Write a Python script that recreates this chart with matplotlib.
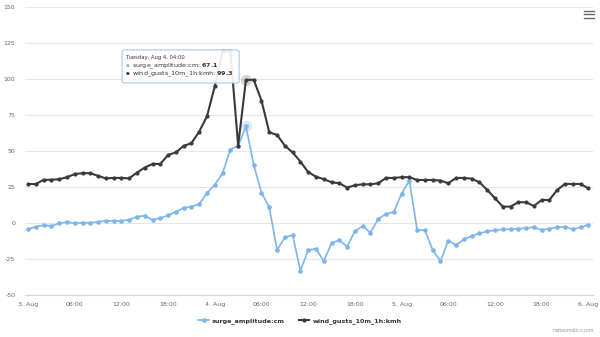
import matplotlib
matplotlib.use("Agg")
import matplotlib.pyplot as plt
from matplotlib.lines import Line2D
from matplotlib.patches import FancyBboxPatch

# Hourly series, 3 Aug 00:00 to 6 Aug 00:00
hours = list(range(73))

surge_amplitude_cm = [
    -4.4, -2.6, -1.6, -2.1, -0.2, 0.7, -0.2, 0.2, 0.2, 0.7,
    1.6, 1.4, 1.4, 2.3, 4.4, 5.1, 2.1, 3.5, 5.3, 7.9,
    10.4, 11.4, 13.2, 20.8, 26.7, 34.6, 51.0, 53.6, 67.1, 40.4,
    21.1, 10.9, -18.8, -10.0, -8.4, -33.2, -18.8, -17.9, -26.4, -14.1,
    -11.8, -16.5, -5.8, -2.1, -6.7, 2.8, 6.3, 7.7, 20.4, 29.5,
    -4.9, -4.9, -18.8, -26.4, -12.3, -15.3, -11.4, -9.0, -7.2, -5.8,
    -5.1, -4.4, -4.4, -3.9, -3.5, -3.0, -4.9, -3.9, -3.0, -2.6,
    -4.4, -3.0, -1.2,
]

wind_gusts_kmh = [
    27.1, 27.0, 30.0, 30.0, 30.4, 31.8, 34.0, 34.6, 34.6, 32.7,
    31.0, 31.3, 31.3, 31.0, 35.0, 38.5, 41.0, 41.0, 47.3, 49.0,
    53.6, 55.4, 63.5, 74.2, 95.0, 119.5, 119.5, 53.8, 99.3, 99.5,
    85.0, 63.0, 61.2, 53.7, 49.0, 42.7, 35.3, 32.2, 30.4, 28.3,
    27.6, 24.6, 26.2, 26.9, 26.9, 27.6, 31.3, 31.3, 31.8, 31.8,
    29.9, 29.9, 29.9, 29.5, 27.6, 31.3, 31.3, 30.8, 28.3, 23.0,
    17.2, 11.4, 11.4, 14.4, 14.4, 11.8, 16.0, 16.0, 23.0, 27.1,
    27.1, 27.1, 24.1,
]

x_tick_hours = list(range(0, 73, 6))
x_tick_labels = ["3. Aug", "06:00", "12:00", "18:00", "4. Aug", "06:00", "12:00",
                 "18:00", "5. Aug", "06:00", "12:00", "18:00", "6. Aug"]
y_ticks = [-50, -25, 0, 25, 50, 75, 100, 125, 150]

tooltip_hour = 28
tooltip_title = "Tuesday, Aug 4, 04:00"

surge_name = "surge_amplitude:cm"
gust_name = "wind_gusts_10m_1h:kmh"

BLUE = "#7cb5ec"
DARK = "#3a3a3e"

fig = plt.figure(figsize=(6.0, 3.37), dpi=100)
fig.patch.set_facecolor("white")
ax = fig.add_axes([25 / 600, 1 - 295 / 337, 568 / 600, 288 / 337])

ax.plot(hours, surge_amplitude_cm, color=BLUE, lw=1.2, marker="o", ms=2.3,
        mec=BLUE, mfc=BLUE, zorder=3, label=surge_name)
ax.plot(hours, wind_gusts_kmh, color=DARK, lw=1.5, marker="o", ms=2.0,
        mec=DARK, mfc=DARK, zorder=4, label=gust_name)

# hover halos on the highlighted hour
ax.plot([hours[tooltip_hour]], [surge_amplitude_cm[tooltip_hour]], "o", ms=8,
        color=BLUE, alpha=0.3, mew=0, zorder=2)
ax.plot([hours[tooltip_hour]], [wind_gusts_kmh[tooltip_hour]], "o", ms=8,
        color="#888888", alpha=0.35, mew=0, zorder=2)

ax.set_xlim(-0.39, 72.6)
ax.set_ylim(-50, 150)
ax.set_yticks(y_ticks)
ax.set_yticklabels([str(v) for v in y_ticks])
ax.set_xticks(x_tick_hours)
ax.set_xticklabels(x_tick_labels)
ax.tick_params(axis="both", length=0, labelsize=4.5, colors="#666666")
ax.tick_params(axis="y", pad=7)
ax.tick_params(axis="x", pad=5)
for lbl in ax.get_yticklabels() + ax.get_xticklabels():
    lbl.set_color("#666666")

ax.grid(axis="y", color="#e6e6e6", lw=0.8)
ax.set_axisbelow(True)
for side in ["top", "right", "left"]:
    ax.spines[side].set_visible(False)
ax.spines["bottom"].set_color("#ccd6eb")
ax.spines["bottom"].set_linewidth(0.8)

# tooltip
box = FancyBboxPatch((0.171, 0.736), 0.206, 0.115, transform=ax.transAxes,
                     boxstyle="round,pad=0,rounding_size=0.006",
                     fc="white", ec="#a9c9ea", lw=0.9, alpha=0.9, zorder=6)
ax.add_patch(box)
ax.text(0.178, 0.824, tooltip_title, transform=ax.transAxes, fontsize=3.8,
        color="#333333", va="center", ha="left", zorder=7)
ax.text(0.178, 0.795, "\u25cf", transform=ax.transAxes, fontsize=3.2,
        color=BLUE, va="center", ha="left", zorder=7)
ax.text(0.188, 0.795, f"{surge_name}: $\\bf{{{surge_amplitude_cm[tooltip_hour]:.1f}}}$",
        transform=ax.transAxes, fontsize=4.6, color="#333333", va="center",
        ha="left", zorder=7)
ax.text(0.178, 0.767, "\u25cf", transform=ax.transAxes, fontsize=3.2,
        color=DARK, va="center", ha="left", zorder=7)
ax.text(0.188, 0.767, f"{gust_name}: $\\bf{{{wind_gusts_kmh[tooltip_hour]:.1f}}}$",
        transform=ax.transAxes, fontsize=4.6, color="#333333", va="center",
        ha="left", zorder=7)

# legend
leg = fig.legend(loc="center", bbox_to_anchor=(0.5, 1 - 321 / 337), ncol=2,
                 frameon=False, handlelength=1.6, handletextpad=0.5,
                 columnspacing=2.2, prop={"size": 4.6, "weight": "bold"})
for t in leg.get_texts():
    t.set_color("#333333")

# context menu icon
for yy in (10.5, 14, 17.5):
    fig.add_artist(Line2D([584 / 600, 594 / 600], [1 - yy / 337, 1 - yy / 337],
                          color="#666666", lw=1.0))

fig.text(594 / 600, 1 - 331 / 337, "meteomatics.com", fontsize=3.3,
         color="#999999", ha="right", va="center")

fig.savefig("out.png", dpi=100)
